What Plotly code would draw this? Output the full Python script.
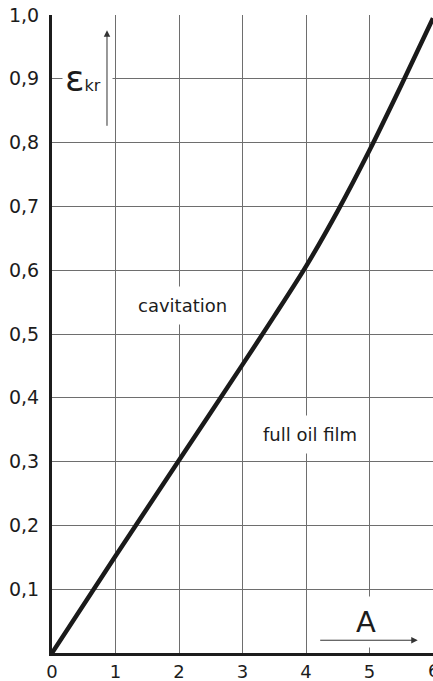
import plotly.graph_objects as go

# Data
A_vals = [0, 1, 2, 3, 3.5, 4, 4.5, 5, 5.5, 6]
eps_kr = [0, 0.152, 0.302, 0.452, 0.528, 0.606, 0.693, 0.788, 0.89, 0.995]

x_ticks = [0, 1, 2, 3, 4, 5, 6]
x_labels = ["0", "1", "2", "3", "4", "5", "6"]
y_ticks = [0.1, 0.2, 0.3, 0.4, 0.5, 0.6, 0.7, 0.8, 0.9, 1.0]
y_labels = ["0,1", "0,2", "0,3", "0,4", "0,5", "0,6", "0,7", "0,8", "0,9", "1,0"]

FONT = "DejaVu Sans"
INK = "#1c1c1c"
GRID = "#6e6e6e"

fig = go.Figure()
fig.add_trace(go.Scatter(
    x=A_vals, y=eps_kr, mode="lines",
    line=dict(color="#1a1a1a", width=4.5, shape="spline", smoothing=0.8),
    hoverinfo="skip", showlegend=False, cliponaxis=True,
))

fig.update_layout(
    width=433, height=681,
    margin=dict(l=52, r=0, t=15, b=28),
    paper_bgcolor="white", plot_bgcolor="white",
    font=dict(family=FONT, color=INK, size=18),
    xaxis=dict(
        range=[0, 6], tickvals=x_ticks, ticktext=x_labels,
        showgrid=True, gridcolor=GRID, gridwidth=1,
        showline=True, linecolor=INK, linewidth=3,
        zeroline=False, ticks="", ticklabelstandoff=0,
        tickfont=dict(family=FONT, size=18, color=INK),
        automargin=False, fixedrange=True,
    ),
    yaxis=dict(
        range=[0, 1], tickvals=y_ticks, ticktext=y_labels,
        showgrid=True, gridcolor=GRID, gridwidth=1,
        showline=True, linecolor=INK, linewidth=3,
        zeroline=False, ticks="", ticklabelstandoff=6,
        tickfont=dict(family=FONT, size=19, color=INK),
        automargin=False, fixedrange=True,
    ),
)

annotations = [
    dict(x=0.56, y=0.9, xref="x", yref="y",
         text='ε<span style="font-size:16px">kr</span>',
         font=dict(family=FONT, size=36, color=INK),
         showarrow=False, bgcolor="white", width=45, align="left", borderpad=2),
    dict(x=0.866, y=0.976, ax=0.866, ay=0.824, xref="x", yref="y", axref="x", ayref="y",
         text="", showarrow=True, arrowhead=2, arrowsize=1.3, arrowwidth=1, arrowcolor="#333"),
    dict(x=2.06, y=0.545, xref="x", yref="y", text="cavitation",
         font=dict(family=FONT, size=18, color=INK),
         showarrow=False, bgcolor="white", borderpad=8),
    dict(x=4.06, y=0.343, xref="x", yref="y", text="full oil film",
         font=dict(family=FONT, size=18, color=INK),
         showarrow=False, bgcolor="white", borderpad=8),
    dict(x=4.95, y=0.049, xref="x", yref="y", text="A",
         font=dict(family=FONT, size=29, color=INK),
         showarrow=False, bgcolor="white", borderpad=8, width=90),
    dict(x=5.76, y=0.02, ax=4.2, ay=0.02, xref="x", yref="y", axref="x", ayref="y",
         text="", showarrow=True, arrowhead=2, arrowsize=1.3, arrowwidth=1, arrowcolor="#333"),
    # last x tick label, which sits on the right edge and is partly cut off in the reference
    dict(x=x_ticks[-1], y=0, xref="x", yref="paper", yanchor="top", xanchor="center",
         yshift=-5, text=x_labels[-1], font=dict(family=FONT, size=18, color=INK),
         showarrow=False),
]
fig.update_layout(annotations=annotations)

fig.write_html("out.html", config={"displayModeBar": False})

# remove the default page margin so the figure sits at the window's corner
with open("out.html", encoding="utf-8") as f:
    html = f.read()
html = html.replace("<head>", "<head><style>html,body{margin:0;padding:0;overflow:hidden;}</style>", 1)
with open("out.html", "w", encoding="utf-8") as f:
    f.write(html)
